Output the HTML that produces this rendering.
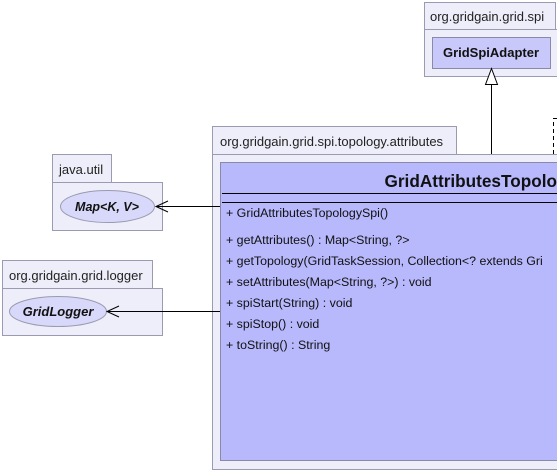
<!DOCTYPE html>
<html><head><meta charset="utf-8"><style>
body{margin:0;width:557px;height:471px;overflow:hidden;background:#fff;font-family:"Liberation Sans",sans-serif;}
</style></head><body>
<svg width="557" height="471" xmlns="http://www.w3.org/2000/svg" font-family="Liberation Sans, sans-serif">
<rect x="424.5" y="2.5" width="131" height="27" fill="#eeeefa" stroke="#9a9ab0"/>
<rect x="424.5" y="29.5" width="140" height="47" fill="#eeeefa" stroke="#9a9ab0"/>
<text x="430" y="21" font-size="13" fill="#222">org.gridgain.grid.spi</text>
<rect x="432.5" y="37.5" width="118" height="31" fill="#c8c8fa" stroke="#8a8aa8"/>
<text x="491" y="57" font-size="13" font-weight="bold" text-anchor="middle" fill="#111">GridSpiAdapter</text>
<line x1="491.5" y1="84" x2="491.5" y2="162" stroke="#000"/>
<polygon points="491.5,68.5 485.5,84.5 497.5,84.5" fill="#fff" stroke="#000"/>
<polyline points="557,118.5 553.5,118.5 553.5,162" fill="none" stroke="#000" stroke-dasharray="4,3"/>
<rect x="212.5" y="126.5" width="244" height="28" fill="#eeeefa" stroke="#9a9ab0"/>
<rect x="212.5" y="154.5" width="350" height="315" fill="#eeeefa" stroke="#9a9ab0"/>
<text x="220" y="146" font-size="13" fill="#222">org.gridgain.grid.spi.topology.attributes</text>
<rect x="220.5" y="162.5" width="345" height="298" fill="#b8b8fc" stroke="#8a8aa8"/>
<text x="557" y="187" font-size="17.2" font-weight="bold" text-anchor="end" fill="#111">GridAttributesTopolo</text>
<line x1="222" y1="193.5" x2="557" y2="193.5" stroke="#000"/>
<line x1="222" y1="202.5" x2="557" y2="202.5" stroke="#000"/>
<g font-size="12.4" fill="#111">
<text x="226" y="217">+ GridAttributesTopologySpi()</text>
<text x="226" y="244">+ getAttributes() : Map&lt;String, ?&gt;</text>
<text x="226" y="265">+ getTopology(GridTaskSession, Collection&lt;? extends Gri</text>
<text x="226" y="286">+ setAttributes(Map&lt;String, ?&gt;) : void</text>
<text x="226" y="307">+ spiStart(String) : void</text>
<text x="226" y="328">+ spiStop() : void</text>
<text x="226" y="349">+ toString() : String</text>
</g>
<rect x="52.5" y="154.5" width="59" height="28" fill="#eeeefa" stroke="#9a9ab0"/>
<rect x="52.5" y="182.5" width="110" height="48" fill="#eeeefa" stroke="#9a9ab0"/>
<text x="59" y="174" font-size="13" fill="#222">java.util</text>
<ellipse cx="107.5" cy="206.5" rx="47" ry="16" fill="#d8d8fa" stroke="#9a9ab0"/>
<text x="107" y="211" font-size="12.5" font-weight="bold" font-style="italic" text-anchor="middle" fill="#111">Map&lt;K, V&gt;</text>
<line x1="156" y1="206.5" x2="220" y2="206.5" stroke="#000"/>
<polyline points="168,201 156,206.5 168,212" fill="none" stroke="#000"/>
<rect x="2.5" y="260.5" width="150" height="28" fill="#eeeefa" stroke="#9a9ab0"/>
<rect x="2.5" y="288.5" width="160" height="47" fill="#eeeefa" stroke="#9a9ab0"/>
<text x="9" y="280" font-size="13" fill="#222">org.gridgain.grid.logger</text>
<ellipse cx="58" cy="311.5" rx="48.5" ry="15" fill="#d8d8fa" stroke="#9a9ab0"/>
<text x="58" y="316" font-size="13" font-weight="bold" font-style="italic" text-anchor="middle" fill="#111">GridLogger</text>
<line x1="107" y1="311.5" x2="220" y2="311.5" stroke="#000"/>
<polyline points="119,306 107,311.5 119,317" fill="none" stroke="#000"/>
</svg>
</body></html>
